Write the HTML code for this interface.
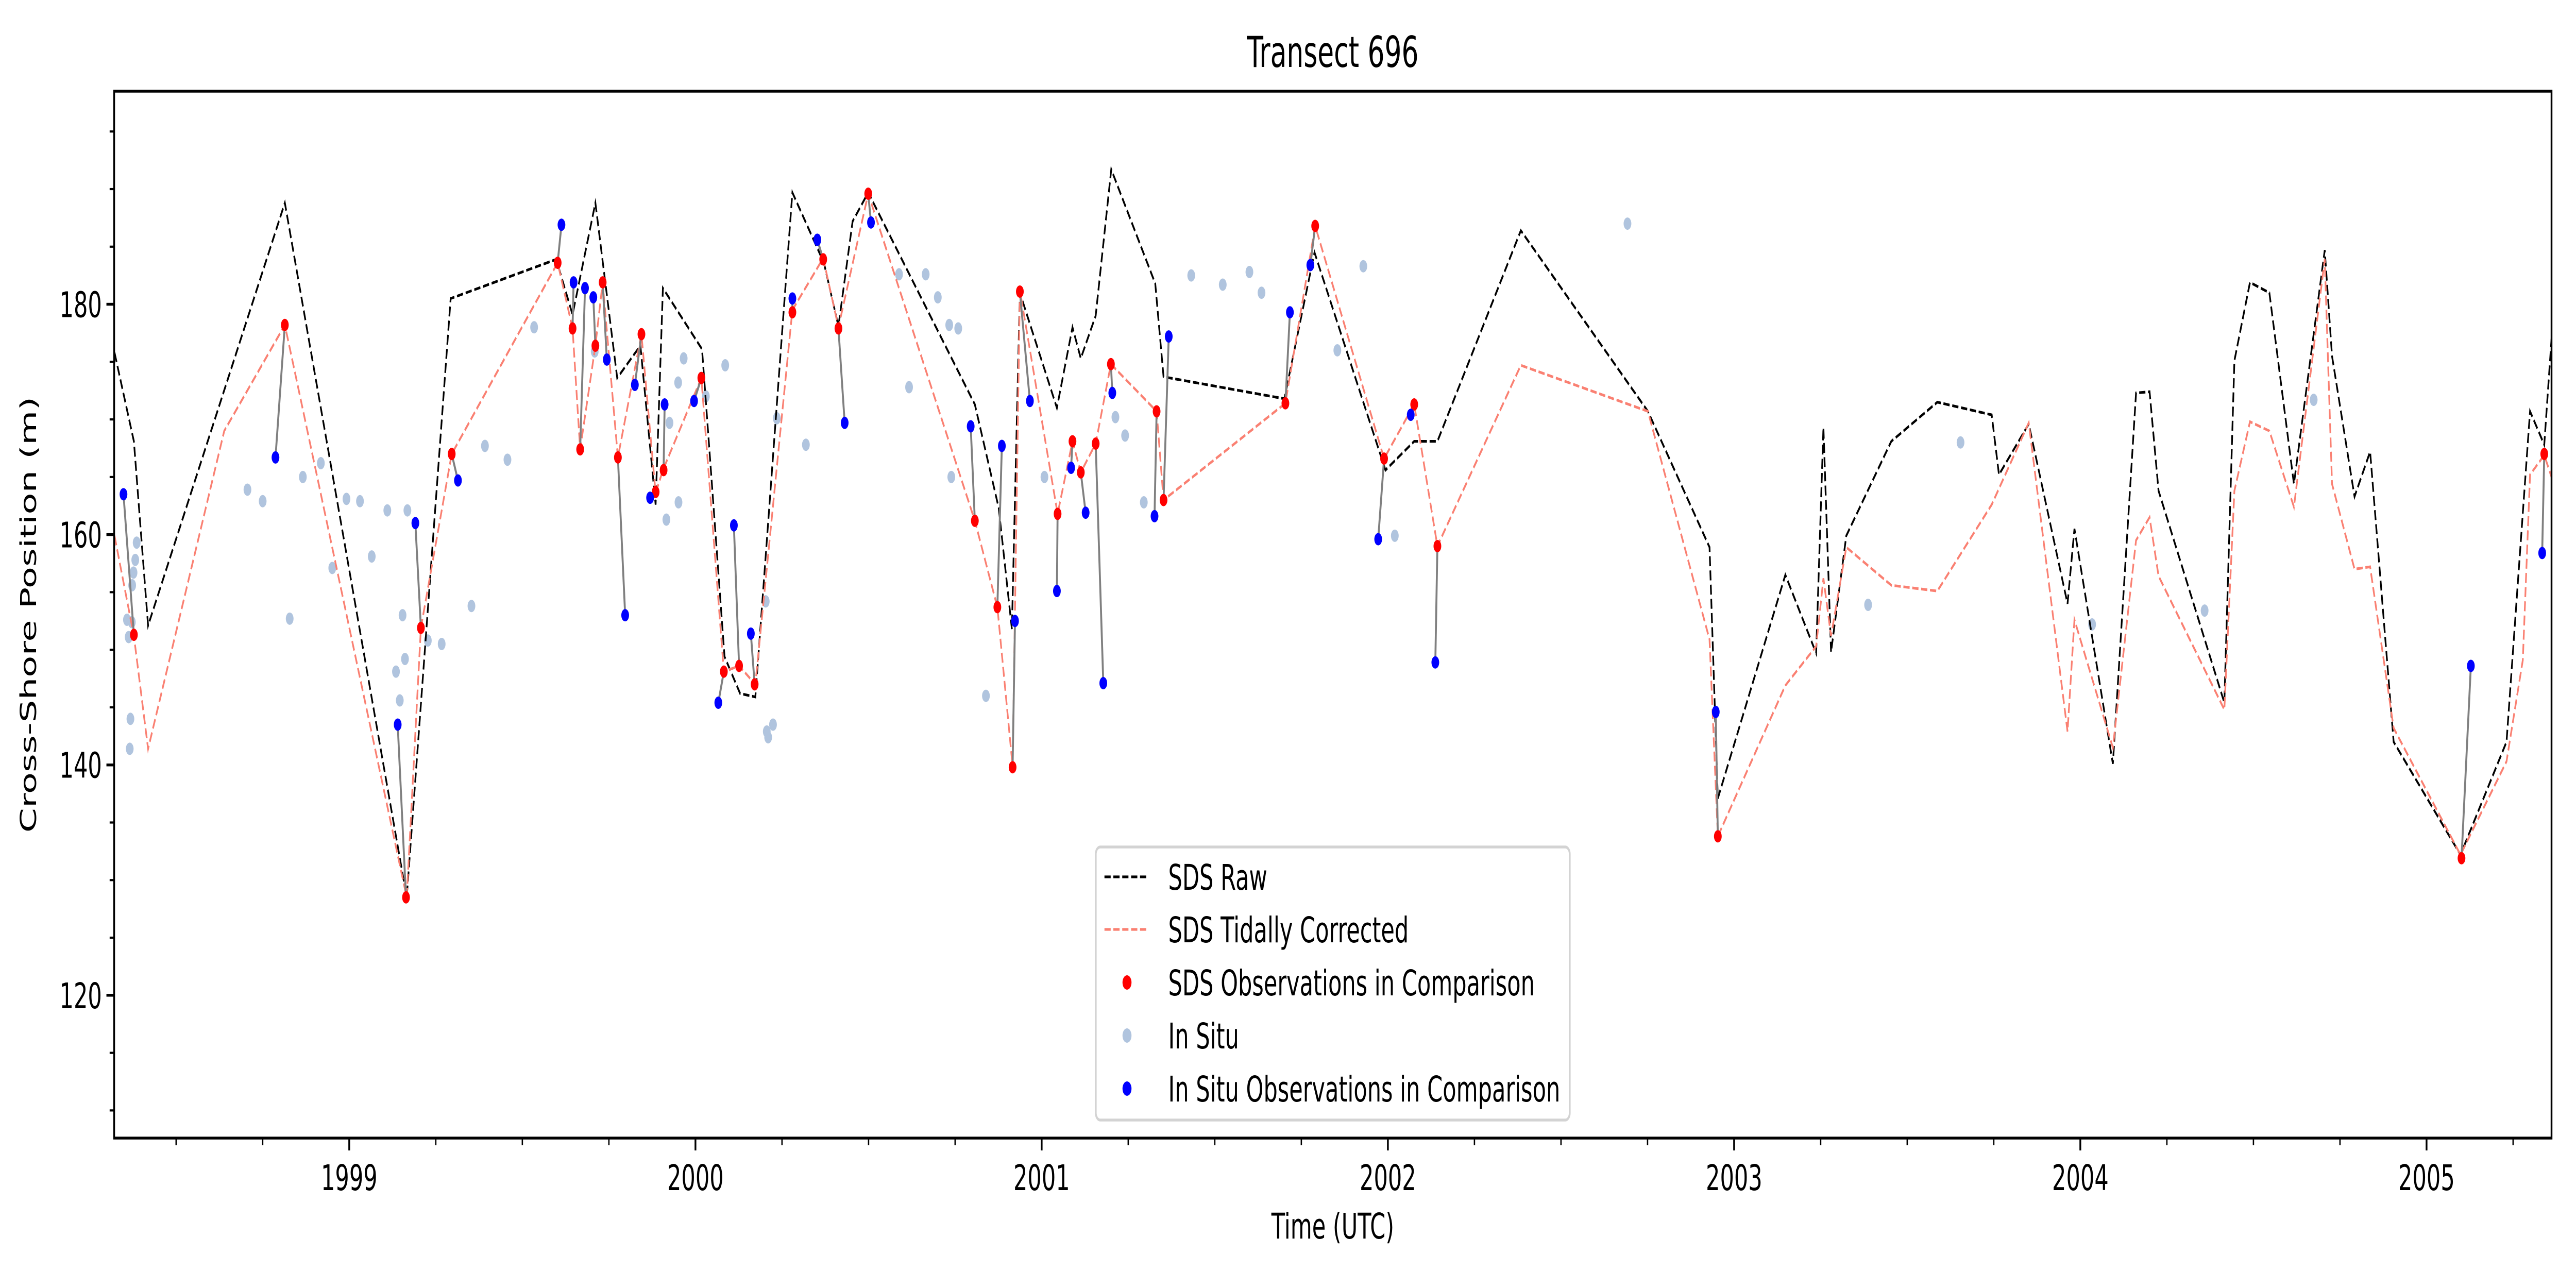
<!DOCTYPE html>
<html><head><meta charset="utf-8"><title>Transect 696</title>
<style>
html,body{margin:0;padding:0;background:#fff;width:100%;height:100%;overflow:hidden;}
svg{display:block;position:absolute;left:0;top:0;width:100vw;height:100vh;font-family:"DejaVu Sans","Liberation Sans",sans-serif;}
</style></head>
<body>
<svg id="chart" xmlns="http://www.w3.org/2000/svg" viewBox="0 0 8000 2500" preserveAspectRatio="none">
<rect width="8000" height="2500" fill="#fff"/>
<text x="4139" y="130" font-size="83" text-anchor="middle">Transect 696</text>
<text transform="translate(112,1193) rotate(-90)" font-size="69" text-anchor="middle">Cross-Shore Position (m)</text>
<text x="4139" y="2404" font-size="69" text-anchor="middle">Time (UTC)</text>
<g id="plot"></g>
</svg>
<script>
// ---- data (decimal years, metres) ----
const rawDates=[1998.322,1998.378,1998.419,1998.814,1999.166,1999.293,1999.598,1999.645,1999.711,1999.774,1999.841,1999.885,1999.906,2000.019,2000.084,2000.129,2000.173,2000.280,2000.371,2000.413,2000.454,2000.499,2000.807,2000.876,2000.914,2000.937,2001.044,2001.089,2001.113,2001.156,2001.201,2001.328,2001.352,2001.701,2001.788,2001.993,2002.076,2002.143,2002.384,2002.751,2002.929,2002.953,2003.148,2003.237,2003.258,2003.280,2003.324,2003.454,2003.587,2003.744,2003.765,2003.851,2003.963,2003.983,2004.094,2004.161,2004.200,2004.226,2004.416,2004.445,2004.490,2004.546,2004.617,2004.706,2004.727,2004.792,2004.837,2004.905,2005.098,2005.231,2005.299,2005.340,2005.361];
const rawValues=[175.8,168.1,152.1,188.8,128.5,180.5,183.9,179.1,188.8,173.6,176.4,162.6,181.4,176.1,149.4,146.2,145.9,189.7,183.6,178.1,187.2,189.7,171.3,162.3,151.8,181.0,171.0,178.0,175.3,179.0,191.7,181.8,173.7,171.8,184.5,165.6,168.1,168.1,186.4,170.7,158.9,137.1,156.5,149.7,169.3,149.8,159.9,168.1,171.5,170.4,165.2,169.6,154.0,160.5,140.1,172.3,172.4,163.8,145.4,175.1,181.9,181.0,164.4,184.7,175.5,163.3,167.2,142.0,132.2,142.0,170.7,167.8,177.0];
const corrDates=[1998.322,1998.378,1998.419,1998.639,1998.814,1999.166,1999.207,1999.296,1999.602,1999.645,1999.667,1999.711,1999.732,1999.776,1999.844,1999.885,1999.906,2000.017,2000.082,2000.126,2000.173,2000.280,2000.369,2000.413,2000.499,2000.807,2000.872,2000.916,2000.937,2001.046,2001.089,2001.113,2001.156,2001.200,2001.332,2001.352,2001.704,2001.790,2001.989,2002.076,2002.143,2002.384,2002.751,2002.929,2002.953,2003.148,2003.237,2003.258,2003.280,2003.324,2003.454,2003.587,2003.744,2003.851,2003.963,2003.983,2004.094,2004.161,2004.200,2004.226,2004.416,2004.445,2004.490,2004.546,2004.617,2004.706,2004.727,2004.792,2004.837,2004.905,2005.098,2005.231,2005.278,2005.299,2005.340,2005.361];
const corrValues=[159.9,151.2,141.4,169.0,178.2,128.5,151.9,167.0,183.6,177.9,167.4,176.4,181.9,166.7,177.4,163.6,165.6,173.6,148.1,148.6,147.0,179.5,184.0,178.0,189.6,161.2,153.7,139.9,181.2,161.8,168.1,165.4,167.9,174.8,170.7,163.0,171.4,186.8,166.6,171.3,159.0,174.7,170.7,150.9,133.8,146.9,150.3,156.2,151.2,158.9,155.6,155.1,162.6,169.7,142.9,152.6,141.5,159.5,161.5,156.4,144.8,163.8,169.8,169.0,162.4,183.9,164.4,157.0,157.2,143.2,132.2,140.3,149.1,165.2,166.9,165.0];
const sdsObsDates=[1998.378,1998.814,1999.164,1999.207,1999.296,1999.602,1999.645,1999.667,1999.711,1999.732,1999.776,1999.844,1999.885,1999.908,2000.017,2000.082,2000.126,2000.171,2000.280,2000.369,2000.413,2000.499,2000.807,2000.872,2000.916,2000.937,2001.046,2001.089,2001.113,2001.156,2001.200,2001.332,2001.352,2001.704,2001.790,2001.989,2002.076,2002.143,2002.953,2005.101,2005.340];
const sdsObsValues=[151.3,178.2,128.5,151.9,167.0,183.6,177.9,167.4,176.4,181.9,166.7,177.4,163.7,165.6,173.6,148.1,148.6,147.0,179.3,183.9,177.9,189.6,161.2,153.7,139.8,181.1,161.8,168.1,165.4,167.9,174.8,170.7,163.0,171.4,186.8,166.6,171.3,159.0,133.8,131.9,167.0];
const insituObsDates=[1998.348,1998.787,1999.140,1999.191,1999.314,1999.613,1999.648,1999.681,1999.705,1999.744,1999.797,1999.825,1999.869,1999.911,1999.996,2000.066,2000.111,2000.160,2000.280,2000.352,2000.431,2000.507,2000.795,2000.885,2000.923,2000.966,2001.044,2001.085,2001.127,2001.178,2001.204,2001.326,2001.367,2001.717,2001.776,2001.972,2002.066,2002.137,2002.947,2005.128,2005.334];
const insituObsValues=[163.5,166.7,143.5,161.0,164.7,186.9,181.9,181.4,180.6,175.2,153.0,173.0,163.2,171.3,171.6,145.4,160.8,151.4,180.5,185.6,169.7,187.1,169.4,167.7,152.5,171.6,155.1,165.8,161.9,147.1,172.3,161.6,177.2,179.3,183.4,159.6,170.4,148.9,144.6,148.6,158.4];
const insituDates=[1998.386,1998.382,1998.377,1998.373,1998.358,1998.372,1998.363,1998.368,1998.366,1998.706,1998.750,1998.828,1998.866,1998.918,1998.951,1998.992,1999.031,1999.065,1999.110,1999.168,1999.154,1999.161,1999.135,1999.146,1999.227,1999.267,1999.353,1999.392,1999.457,1999.534,1999.709,1999.925,1999.950,1999.966,1999.951,1999.916,2000.030,2000.086,2000.203,2000.235,2000.224,2000.206,2000.210,2000.319,2000.588,2000.617,2000.665,2000.700,2000.733,2000.759,2000.739,2000.839,2001.008,2001.213,2001.241,2001.295,2001.432,2001.523,2001.600,2001.635,2001.854,2001.929,2002.020,2002.692,2003.387,2003.654,2004.034,2004.359,2004.674];
const insituValues=[159.3,157.8,156.7,155.6,152.6,152.4,151.1,144.0,141.4,163.9,162.9,152.7,165.0,166.2,157.1,163.1,162.9,158.1,162.1,162.1,153.0,149.2,148.1,145.6,150.8,150.5,153.8,167.7,166.5,178.0,175.9,169.7,173.2,175.3,162.8,161.3,172.0,174.7,154.2,170.1,143.5,142.9,142.4,167.8,182.6,172.8,182.6,180.6,178.2,177.9,165.0,146.0,165.0,170.2,168.6,162.8,182.5,181.7,182.8,181.0,176.0,183.3,159.9,187.0,153.9,168.0,152.2,153.4,171.7];
const yTickValues=[120,140,160,180];
const xTickLabels=["1999","2000","2001","2002","2003","2004","2005"];

// ---- axes ----
const L=354.5,R=7924,T=177,B=2209;
const X0=1998.321,X1=2005.361,Y0=107.6,Y1=198.5;
function sx(t){return L+(t-X0)/(X1-X0)*(R-L);}
function sy(v){return B-(v-Y0)/(Y1-Y0)*(B-T);}
const NS="http://www.w3.org/2000/svg";
const plot=document.getElementById('plot');
function mk(tag,attrs,parent){const e=document.createElementNS(NS,tag);for(const k in attrs)e.setAttribute(k,attrs[k]);(parent||plot).appendChild(e);return e;}

const defs=mk('defs',{});
const cp=mk('clipPath',{id:'clip'},defs);
mk('rect',{x:L,y:T,width:R-L,height:B-T},cp);
const g=mk('g',{'clip-path':'url(#clip)'});



for(let v=110;v<=195;v+=5){
  const major=yTickValues.indexOf(v)>=0;
  const t=mk('line',{x1:L-(major?24:14),x2:L,y1:sy(v),y2:sy(v),stroke:'#000','stroke-width':major?5.5:4.2});
  
  
}
yTickValues.forEach(v=>{
  const t=mk('text',{x:L-38,y:sy(v)+25,'font-size':69,'text-anchor':'end'});
  t.textContent=String(v);
  
  
});
for(let yr=1998;yr<=2005;yr++){
  for(let q=0;q<4;q++){
    const t0=yr+q*0.25; if(t0<X0||t0>X1) continue;
    const major=q===0;
    const t=mk('line',{x1:sx(t0),x2:sx(t0),y1:B,y2:B+(major?24:14),stroke:'#000','stroke-width':major?5.5:4.2});
    
    
  }
}
xTickLabels.forEach(s=>{
  const t=mk('text',{x:sx(parseFloat(s)),y:2310,'font-size':69,'text-anchor':'middle'});
  t.textContent=s;
  
  
});

function pts(d,v){return d.map((t,i)=>sx(t).toFixed(1)+','+sy(v[i]).toFixed(1)).join(' ');}

insituDates.forEach((t,i)=>{
  const c=mk('circle',{cx:sx(t),cy:sy(insituValues[i]),r:12,fill:'#b0c4de'},g);
  
  
});
const pr=mk('polyline',{points:pts(rawDates,rawValues),fill:'none',stroke:'#000','stroke-width':5.2,'stroke-dasharray':'19.3 8.3'},g);


const pc=mk('polyline',{points:pts(corrDates,corrValues),fill:'none',stroke:'#fa8072','stroke-width':5.2,'stroke-dasharray':'19.3 8.3'},g);


sdsObsDates.forEach((t,i)=>{
  const l=mk('line',{x1:sx(t),y1:sy(sdsObsValues[i]),x2:sx(insituObsDates[i]),y2:sy(insituObsValues[i]),stroke:'#808080','stroke-width':6},g);
  
  
});
sdsObsDates.forEach((t,i)=>{
  const c=mk('circle',{cx:sx(t),cy:sy(sdsObsValues[i]),r:12,fill:'#ff0000'},g);
  
  
});
insituObsDates.forEach((t,i)=>{
  const c=mk('circle',{cx:sx(t),cy:sy(insituObsValues[i]),r:12,fill:'#0000ff'},g);
  
  
});

const fr=mk('rect',{x:L,y:T,width:R-L,height:B-T,fill:'none',stroke:'#000','stroke-width':5.5});



const lg=mk('g',{});


mk('rect',{x:3403,y:1644,width:1472,height:530,rx:14,fill:'#fff','fill-opacity':0.8,stroke:'#d3d3d3','stroke-width':5.5},lg);
const legendLabels=["SDS Raw","SDS Tidally Corrected","SDS Observations in Comparison","In Situ","In Situ Observations in Comparison"];
const legendRowsY=[1702,1804,1907,2010,2113];
legendLabels.forEach((s,i)=>{
  const y=legendRowsY[i];
  const e=mk('g',{},lg);
  
  
  if(i<2){
    mk('line',{x1:3430,x2:3568,y1:y,y2:y,stroke:i===0?'#000':'#fa8072','stroke-width':5.2,'stroke-dasharray':'19.3 8.3'},e);
  }else{
    mk('circle',{cx:3500,cy:y,r:14,fill:['#ff0000','#b0c4de','#0000ff'][i-2]},e);
  }
  const t=mk('text',{x:3628,y:y+25,'font-size':69},e);
  t.textContent=s;
});
</script>
</body></html>
